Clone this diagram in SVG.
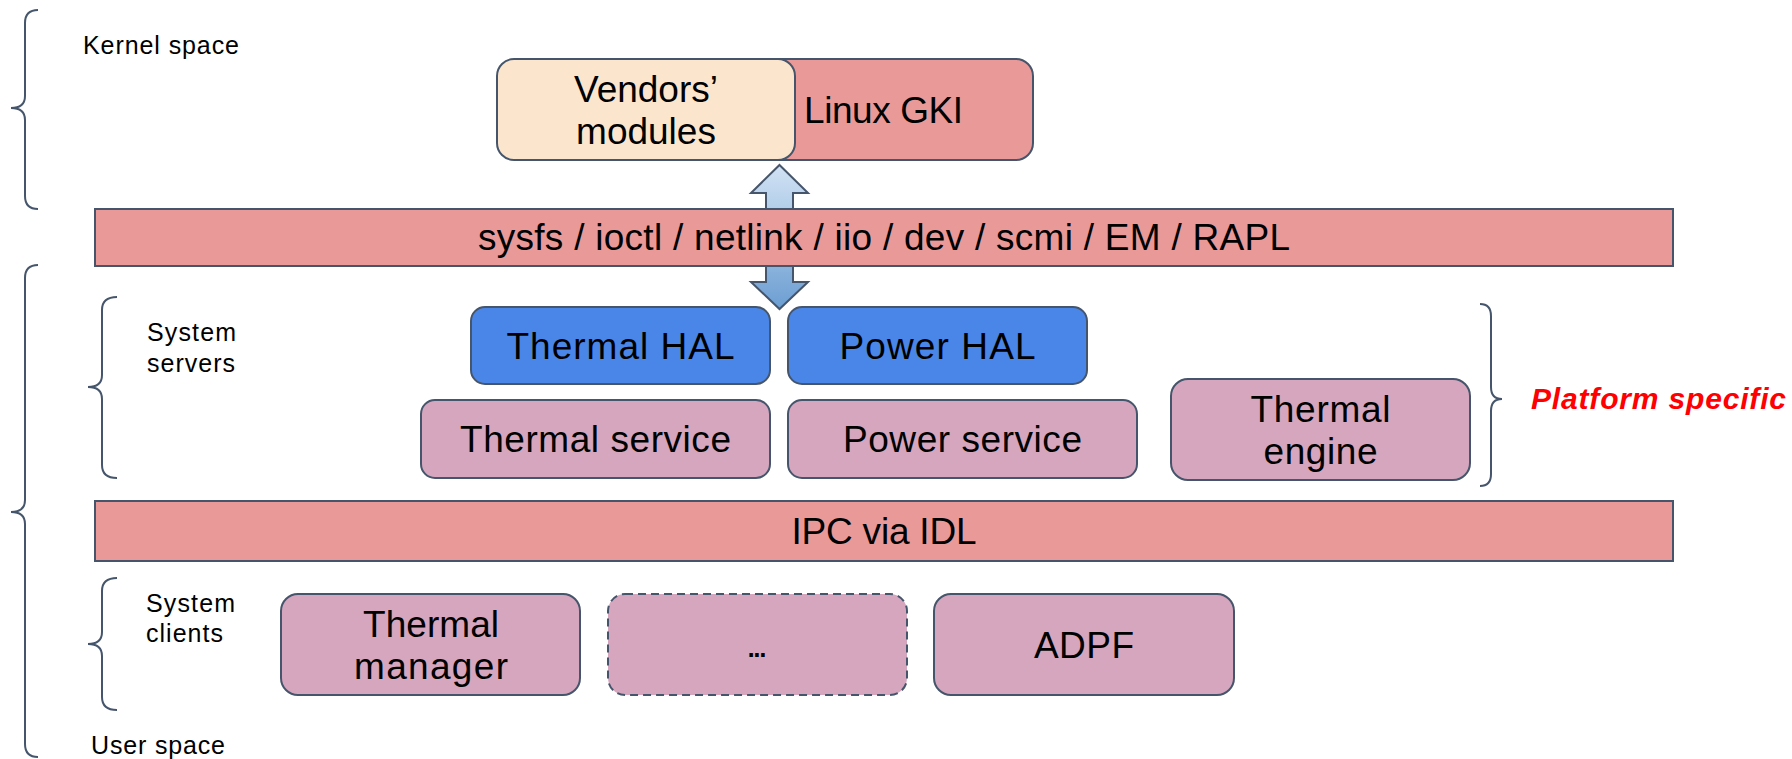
<svg xmlns="http://www.w3.org/2000/svg" width="1792" height="759" viewBox="0 0 1792 759">
  <defs>
    <linearGradient id="arrowFill" gradientUnits="userSpaceOnUse" x1="0" y1="165" x2="0" y2="309">
      <stop offset="0" stop-color="#d2e3f4"/>
      <stop offset="1" stop-color="#6c9ed2"/>
    </linearGradient>
  </defs>
  <style>
    .box { stroke: #45556b; stroke-width: 2; }
    .bar { fill: #ea9999; stroke: #45556b; stroke-width: 2; }
    .pink { fill: #d5a6bd; }
    .blue { fill: #4a86e8; }
    .peach { fill: #fce5cd; }
    .red { fill: #ea9999; }
    .dashed { stroke-dasharray: 8 5; }
    .brace { fill: none; stroke: #45556b; stroke-width: 2; }
    .big { font-family: "Liberation Sans", Arial, sans-serif; font-size: 37px; fill: #000; text-anchor: middle; }
    .small { font-family: "Liberation Sans", Arial, sans-serif; font-size: 25px; fill: #000; }
    .note { font-family: "Liberation Sans", Arial, sans-serif; font-size: 30px; font-weight: bold; font-style: italic; fill: #ff0000; }
  </style>
  <rect width="1792" height="759" fill="#ffffff"/>

  <!-- side braces and their captions -->
  <g id="braces">
    <path class="brace" d="M38,10 Q25,10 25,23 L25,96 Q25,108 11,108 Q25,108 25,120 L25,196 Q25,209 38,209"/>
    <path class="brace" d="M38,265 Q25,265 25,278 L25,500 Q25,512 11,512 Q25,512 25,524 L25,744 Q25,757 38,757"/>
    <path class="brace" d="M117,297 Q102,297 102,310 L102,375 Q102,387 88,387 Q102,387 102,399 L102,465 Q102,478 117,478"/>
    <path class="brace" d="M117,578 Q102,578 102,591 L102,632 Q102,644 88,644 Q102,644 102,656 L102,697 Q102,710 117,710"/>
    <path class="brace" d="M1480,304 Q1491,304 1491,316 L1491,387 Q1491,399 1502,399 Q1491,399 1491,411 L1491,474 Q1491,486 1480,486"/>
  </g>
  <g id="labels">
    <text class="small" x="83" y="54" textLength="156">Kernel space</text>
    <text class="small" x="147" y="341" textLength="89">System</text>
    <text class="small" x="147" y="372" textLength="88">servers</text>
    <text class="small" x="146" y="612" textLength="89">System</text>
    <text class="small" x="146" y="642" textLength="77">clients</text>
    <text class="small" x="91" y="754" textLength="134">User space</text>
    <text class="note" x="1531" y="409" textLength="255">Platform specific</text>
  </g>

  <!-- double arrow between the kernel and the HAL layer -->
  <g id="connectors">
    <polygon points="779.5,165 808,193 793,193 793,282 808,282 779.5,309 751,282 766,282 766,193 751,193" fill="url(#arrowFill)" stroke="#45556b" stroke-width="2" stroke-linejoin="miter"/>
  </g>

  <g id="linux-gki">
    <rect class="box red" x="748" y="59" width="285" height="101" rx="17"/>
    <text class="big" x="804" y="123" style="text-anchor:start" textLength="159">Linux GKI</text>
  </g>
  <g id="vendors-modules">
    <rect class="box peach" x="497" y="59" width="298" height="101" rx="17"/>
    <text class="big" x="646" y="102">Vendors’</text>
    <text class="big" x="646" y="144">modules</text>
  </g>

  <g id="kernel-interfaces">
    <rect class="bar" x="95" y="209" width="1578" height="57"/>
    <text class="big" x="884" y="250" textLength="812">sysfs / ioctl / netlink / iio / dev / scmi / EM / RAPL</text>
  </g>

  <g id="thermal-hal">
    <rect class="box blue" x="471" y="307" width="299" height="77" rx="14"/>
    <text class="big" x="620.5" y="359" textLength="228">Thermal HAL</text>
  </g>
  <g id="power-hal">
    <rect class="box blue" x="788" y="307" width="299" height="77" rx="14"/>
    <text class="big" x="937.5" y="359" textLength="196">Power HAL</text>
  </g>
  <g id="thermal-service">
    <rect class="box pink" x="421" y="400" width="349" height="78" rx="14"/>
    <text class="big" x="595.5" y="452" textLength="271">Thermal service</text>
  </g>
  <g id="power-service">
    <rect class="box pink" x="788" y="400" width="349" height="78" rx="14"/>
    <text class="big" x="962.5" y="452" textLength="239">Power service</text>
  </g>
  <g id="thermal-engine">
    <rect class="box pink" x="1171" y="379" width="299" height="101" rx="17"/>
    <text class="big" x="1320.5" y="421.5" textLength="140">Thermal</text>
    <text class="big" x="1320.5" y="463.5" textLength="114">engine</text>
  </g>

  <g id="ipc">
    <rect class="bar" x="95" y="501" width="1578" height="60"/>
    <text class="big" x="884" y="544" textLength="185">IPC via IDL</text>
  </g>

  <g id="thermal-manager">
    <rect class="box pink" x="281" y="594" width="299" height="101" rx="17"/>
    <text class="big" x="431" y="636.5" textLength="136">Thermal</text>
    <text class="big" x="431" y="678.5" textLength="154">manager</text>
  </g>
  <g id="other-clients">
    <rect class="box pink dashed" x="608" y="594" width="299" height="101" rx="17"/>
    <text class="big" x="757" y="657" textLength="22">...</text>
  </g>
  <g id="adpf">
    <rect class="box pink" x="934" y="594" width="300" height="101" rx="17"/>
    <text class="big" x="1084" y="658" textLength="100">ADPF</text>
  </g>
</svg>
